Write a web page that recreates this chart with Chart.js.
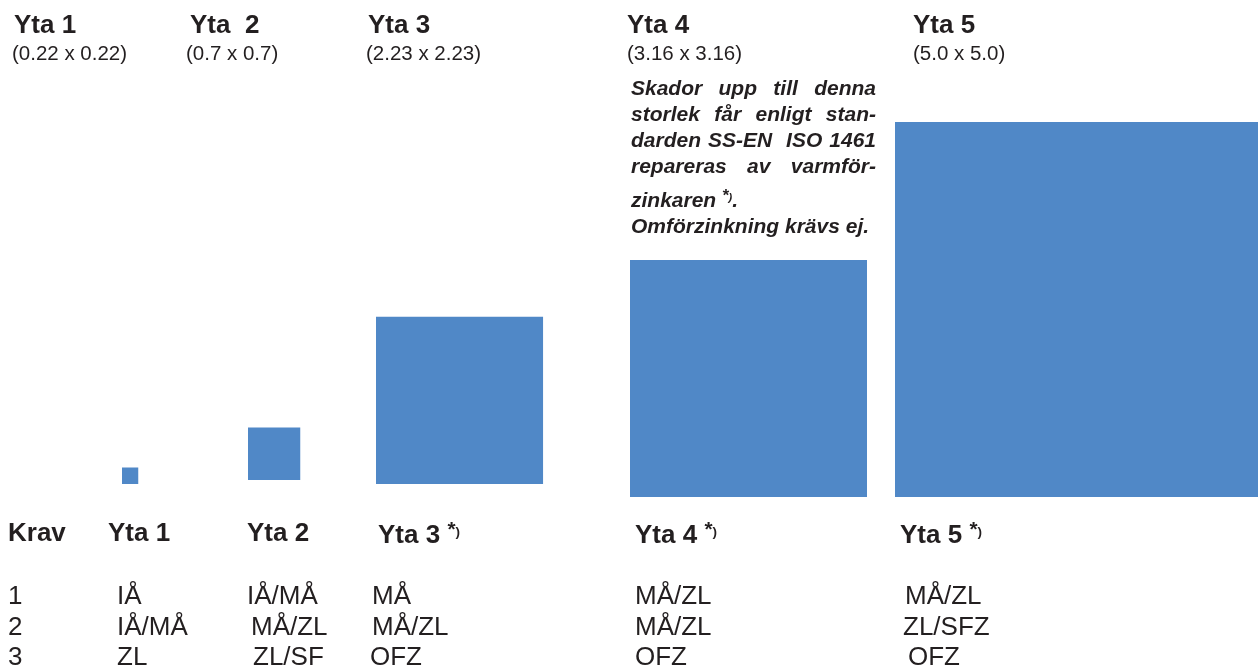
<!DOCTYPE html>
<html>
<head>
<meta charset="utf-8">
<script src="https://cdn.jsdelivr.net/npm/chart.js@4.4.1/dist/chart.umd.min.js"></script>
<style>
    html, body { margin: 0; padding: 0; background: #fff; }
    #wrap { position: relative; width: 1258px; height: 668px; overflow: hidden; font-family: "Liberation Sans", Arial, sans-serif; color: #231f20; }
    #squares { position: absolute; left: 0; top: 0; }
    .t { position: absolute; white-space: pre; line-height: 1; }
    .head { font-weight: bold; font-size: 26px; }
    .sub { font-size: 20.5px; }
    .cell { font-size: 26px; }
    .note { position: absolute; left: 631px; top: 75px; width: 245px; font-weight: bold; font-style: italic; font-size: 21px; line-height: 26px; }
    .note div { white-space: nowrap; }
    .note .j { text-align: justify; text-align-last: justify; white-space: normal; }
    sup.ast { font-size: 0.8em; vertical-align: 0.35em; font-weight: bold; }
    sup.ast small { font-size: 0.65em; }
</style>
</head>
<body>
<div id="wrap">
    <canvas id="squares" width="1258" height="668"></canvas>
    <div id="labels"></div>
</div>
<script>
// Damage areas drawn to scale as squares, with the repair-requirement table below.

const AREA_NAMES = ["Yta 1", "Yta 2", "Yta 3", "Yta 4", "Yta 5"];
const SIDE_LABELS = ["(0.22 x 0.22)", "(0.7 x 0.7)", "(2.23 x 2.23)", "(3.16 x 3.16)", "(5.0 x 5.0)"];
const SIDES = [0.22, 0.7, 2.23, 3.16, 5.0];

const KRAV = ["1", "2", "3"];
const REQ_YTA1 = ["IÅ", "IÅ/MÅ", "ZL"];
const REQ_YTA2 = ["IÅ/MÅ", "MÅ/ZL", "ZL/SF"];
const REQ_YTA3 = ["MÅ", "MÅ/ZL", "OFZ"];
const REQ_YTA4 = ["MÅ/ZL", "MÅ/ZL", "OFZ"];
const REQ_YTA5 = ["MÅ/ZL", "ZL/SFZ", "OFZ"];

// layout (in scale units, 75 px per unit)
const PX = 75;
const W = 1258, H = 668;
const SLOT_LEFT = [122, 248, 376, 630, 895].map(v => v / PX);
const SLOT_BASE = [484, 480, 484, 497, 497].map(v => (H - v) / PX);
const BLUE = "#5088c7";

const datasets = SIDES.map((s, i) => {
    const x0 = SLOT_LEFT[i];
    const base = SLOT_BASE[i];
    return {
        label: AREA_NAMES[i],
        data: [{ x: x0, y: base + s }, { x: x0 + s, y: base + s }],
        showLine: true,
        borderWidth: 0,
        borderColor: BLUE,
        backgroundColor: BLUE,
        pointRadius: 0,
        pointHoverRadius: 0,
        fill: { value: base }
    };
});

new Chart(document.getElementById("squares"), {
    type: "scatter",
    data: { datasets },
    options: {
        responsive: false,
        animation: false,
        layout: { padding: 0 },
        plugins: { legend: { display: false }, tooltip: { enabled: false } },
        scales: {
            x: { type: "linear", display: false, min: 0, max: W / PX },
            y: { type: "linear", display: false, min: 0, max: H / PX }
        }
    }
});

// text
const labels = document.getElementById("labels");
function put(cls, x, y, html) {
    const d = document.createElement("div");
    d.className = "t " + cls;
    d.style.left = x + "px";
    d.style.top = y + "px";
    d.innerHTML = html;
    labels.appendChild(d);
}
const AST = '<sup class="ast">*<small>)</small></sup>';

const headX = [14, 190, 368, 627, 913];
const subX = [12, 186, 366, 627, 913];
AREA_NAMES.forEach((n, i) => {
    put("head", headX[i], 11, i === 1 ? "Yta  2" : n);
    put("sub", subX[i], 43, SIDE_LABELS[i]);
});

const note = document.createElement("div");
note.className = "note";
note.innerHTML =
    '<div class="j">Skador upp till denna</div>' +
    '<div class="j">storlek får enligt stan-</div>' +
    '<div class="j">darden SS-EN&nbsp; ISO 1461</div>' +
    '<div class="j">repareras av varmför-</div>' +
    '<div style="margin-top:4px">zinkaren ' + AST + '.</div>' +
    '<div>Omförzinkning krävs ej.</div>';
labels.appendChild(note);

put("head", 8, 519, "Krav");
put("head", 108, 519, "Yta 1");
put("head", 247, 519, "Yta 2");
put("head", 378, 519, "Yta 3 " + AST);
put("head", 635, 519, "Yta 4 " + AST);
put("head", 900, 519, "Yta 5 " + AST);

const rowY = [582, 613, 643];
const cols = [
    [8, KRAV, [0, 0, 0]],
    [117, REQ_YTA1, [0, 0, 0]],
    [247, REQ_YTA2, [0, 4, 6]],
    [372, REQ_YTA3, [0, 0, -2]],
    [635, REQ_YTA4, [0, 0, 0]],
    [905, REQ_YTA5, [0, -2, 3]]
];
cols.forEach(([x, vals, dx]) => {
    vals.forEach((v, r) => put("cell", x + dx[r], rowY[r], v));
});
</script>
</body>
</html>
